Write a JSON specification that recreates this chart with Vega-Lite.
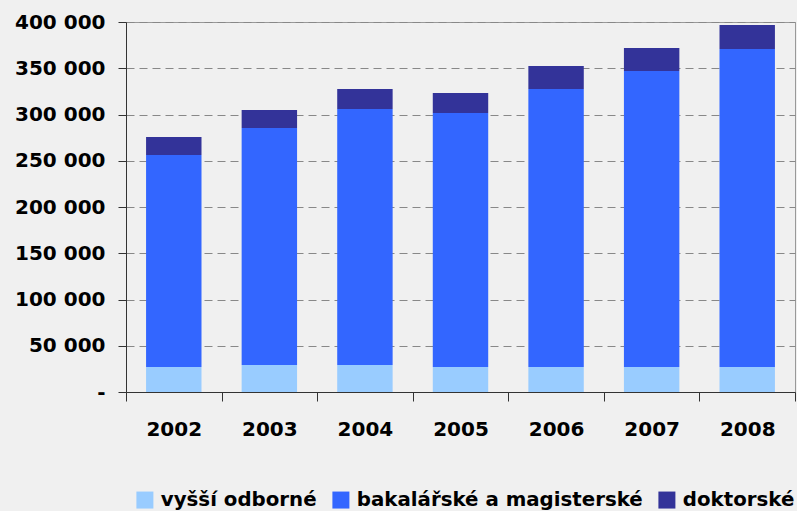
{
  "$schema": "https://vega.github.io/schema/vega-lite/v6.json",
  "width": 669,
  "height": 370,
  "autosize": {"type": "none"},
  "padding": {"left": 126, "top": 22, "right": 2, "bottom": 119},
  "background": "#f0f0f0",
  "config": {
    "view": {"stroke": "#999999", "strokeWidth": 1},
    "font": "DejaVu Sans"
  },
  "data": {
    "values": [
      {"rok": "2002", "typ": "vyšší odborné", "poradi": 1, "pocet": 27000},
      {"rok": "2002", "typ": "bakalářské a magisterské", "poradi": 2, "pocet": 229200},
      {"rok": "2002", "typ": "doktorské", "poradi": 3, "pocet": 19500},
      {"rok": "2003", "typ": "vyšší odborné", "poradi": 1, "pocet": 29200},
      {"rok": "2003", "typ": "bakalářské a magisterské", "poradi": 2, "pocet": 256200},
      {"rok": "2003", "typ": "doktorské", "poradi": 3, "pocet": 19500},
      {"rok": "2004", "typ": "vyšší odborné", "poradi": 1, "pocet": 29200},
      {"rok": "2004", "typ": "bakalářské a magisterské", "poradi": 2, "pocet": 276700},
      {"rok": "2004", "typ": "doktorské", "poradi": 3, "pocet": 21700},
      {"rok": "2005", "typ": "vyšší odborné", "poradi": 1, "pocet": 27000},
      {"rok": "2005", "typ": "bakalářské a magisterské", "poradi": 2, "pocet": 274600},
      {"rok": "2005", "typ": "doktorské", "poradi": 3, "pocet": 21600},
      {"rok": "2006", "typ": "vyšší odborné", "poradi": 1, "pocet": 27000},
      {"rok": "2006", "typ": "bakalářské a magisterské", "poradi": 2, "pocet": 300600},
      {"rok": "2006", "typ": "doktorské", "poradi": 3, "pocet": 24800},
      {"rok": "2007", "typ": "vyšší odborné", "poradi": 1, "pocet": 27000},
      {"rok": "2007", "typ": "bakalářské a magisterské", "poradi": 2, "pocet": 320000},
      {"rok": "2007", "typ": "doktorské", "poradi": 3, "pocet": 24900},
      {"rok": "2008", "typ": "vyšší odborné", "poradi": 1, "pocet": 27000},
      {"rok": "2008", "typ": "bakalářské a magisterské", "poradi": 2, "pocet": 343800},
      {"rok": "2008", "typ": "doktorské", "poradi": 3, "pocet": 26000}
    ]
  },
  "mark": {"type": "bar", "width": {"band": 0.58}},
  "encoding": {
    "x": {
      "field": "rok",
      "type": "ordinal",
      "scale": {"paddingInner": 0, "paddingOuter": 0},
      "axis": {
        "title": null,
        "labelAngle": 0,
        "labelFont": "DejaVu Sans",
        "labelFontWeight": "bold",
        "labelFontSize": 20,
        "labelColor": "#000000",
        "labelPadding": 18,
        "tickBand": "extent",
        "tickSize": 9,
        "tickColor": "#333333",
        "domainColor": "#333333",
        "grid": false
      }
    },
    "y": {
      "field": "pocet",
      "type": "quantitative",
      "aggregate": "sum",
      "stack": "zero",
      "scale": {"domain": [0, 400000], "nice": false},
      "axis": {
        "title": null,
        "values": [0, 50000, 100000, 150000, 200000, 250000, 300000, 350000, 400000],
        "labelExpr": "datum.value === 0 ? '-' : replace(format(datum.value, ','), ',', ' ')",
        "labelFont": "DejaVu Sans",
        "labelFontWeight": "bold",
        "labelFontSize": 20,
        "labelColor": "#000000",
        "labelPadding": 13,
        "tickSize": 8,
        "tickColor": "#333333",
        "domainColor": "#333333",
        "grid": true,
        "gridColor": "#888888",
        "gridDash": [8, 5],
        "gridWidth": 1.2
      }
    },
    "order": {"field": "poradi", "type": "quantitative", "sort": "ascending"},
    "color": {
      "field": "typ",
      "type": "nominal",
      "sort": ["vyšší odborné", "bakalářské a magisterské", "doktorské"],
      "scale": {
        "domain": ["vyšší odborné", "bakalářské a magisterské", "doktorské"],
        "range": ["#99ccff", "#3366ff", "#333399"]
      },
      "legend": {
        "title": null,
        "orient": "none",
        "direction": "horizontal",
        "legendX": 9,
        "legendY": 468,
        "symbolType": "square",
        "symbolSize": 289,
        "symbolStrokeWidth": 0,
        "symbolOpacity": 1,
        "labelFont": "DejaVu Sans",
        "labelFontWeight": "bold",
        "labelFontSize": 19.8,
        "labelColor": "#000000",
        "labelOffset": 6,
        "columnPadding": 14,
        "labelLimit": 400
      }
    }
  }
}
